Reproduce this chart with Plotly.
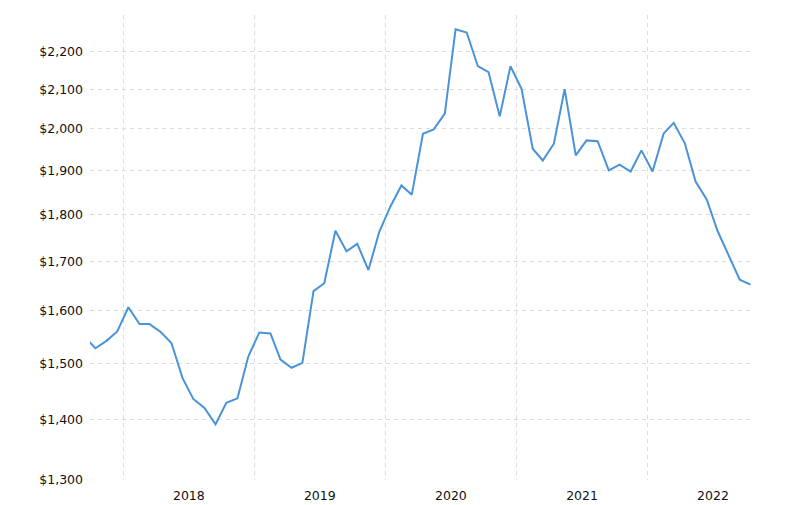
import plotly.graph_objects as go

months = [
    "2017-09-15", "2017-10-15", "2017-11-15", "2017-12-15",
    "2018-01-15", "2018-02-15", "2018-03-15", "2018-04-15", "2018-05-15", "2018-06-15",
    "2018-07-15", "2018-08-15", "2018-09-15", "2018-10-15", "2018-11-15", "2018-12-15",
    "2019-01-15", "2019-02-15", "2019-03-15", "2019-04-15", "2019-05-15", "2019-06-15",
    "2019-07-15", "2019-08-15", "2019-09-15", "2019-10-15", "2019-11-15", "2019-12-15",
    "2020-01-15", "2020-02-15", "2020-03-15", "2020-04-15", "2020-05-15", "2020-06-15",
    "2020-07-15", "2020-08-15", "2020-09-15", "2020-10-15", "2020-11-15", "2020-12-15",
    "2021-01-15", "2021-02-15", "2021-03-15", "2021-04-15", "2021-05-15", "2021-06-15",
    "2021-07-15", "2021-08-15", "2021-09-15", "2021-10-15", "2021-11-15", "2021-12-15",
    "2022-01-15", "2022-02-15", "2022-03-15", "2022-04-15", "2022-05-15", "2022-06-15",
    "2022-07-15", "2022-08-15", "2022-09-15", "2022-10-15",
]

prices = [
    1550, 1528, 1542, 1560,
    1607, 1574, 1574, 1559, 1538, 1473,
    1436, 1420, 1392, 1429, 1437, 1512,
    1558, 1556, 1507, 1492, 1501, 1639,
    1655, 1765, 1721, 1737, 1682, 1762,
    1818, 1866, 1845, 1988, 1999, 2038,
    2260, 2251, 2160, 2144, 2031, 2160,
    2100, 1952, 1924, 1964, 2100, 1936,
    1972, 1970, 1901, 1914, 1898, 1948,
    1898, 1989, 2015, 1965, 1875, 1834,
    1765, 1712, 1662, 1652,
]

y_ticks = [1300, 1400, 1500, 1600, 1700, 1800, 1900, 2000, 2100, 2200]
y_tick_labels = ["$1,300", "$1,400", "$1,500", "$1,600", "$1,700",
                 "$1,800", "$1,900", "$2,000", "$2,100", "$2,200"]

fig = go.Figure()
fig.add_trace(go.Scatter(
    x=months, y=prices, mode="lines",
    line=dict(color="#4a93d8", width=2),
    hoverinfo="skip",
))

grid_color = "#dcdcdc"
font_color = "#111111"

fig.update_layout(
    width=800, height=505,
    margin=dict(l=82, r=55, t=7, b=33),
    paper_bgcolor="white", plot_bgcolor="white",
    showlegend=False,
    font=dict(family="DejaVu Sans, Verdana, sans-serif", size=12.5, color=font_color),
    xaxis=dict(
        type="date",
        range=["2017-09-30", "2022-10-22"],
        dtick="M12", tick0="2018-01-01",
        tickformat="%Y", ticklabelmode="period",
        showgrid=True, gridcolor=grid_color, griddash="4px,4px", gridwidth=1,
        showline=False, zeroline=False, ticks="",
        ticklabelstandoff=6,
        automargin=False,
    ),
    yaxis=dict(
        type="log",
        range=[3.11394, 3.36173],
        tickvals=y_ticks, ticktext=y_tick_labels,
        showgrid=True, gridcolor=grid_color, griddash="4px,4px", gridwidth=1,
        showline=False, zeroline=False, ticks="",
        ticklabelstandoff=6,
        automargin=False,
    ),
)

fig.write_html("out.html")
